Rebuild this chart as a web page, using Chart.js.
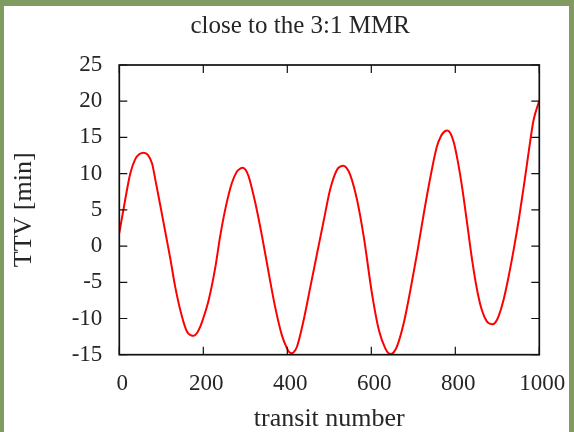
<!DOCTYPE html>
<html>
<head>
<meta charset="utf-8">
<script src="https://cdn.jsdelivr.net/npm/chart.js@4/dist/chart.umd.min.js"></script>
<style>
  html, body { margin: 0; padding: 0; }
  body { width: 574px; height: 432px; background: #7f9b60; position: relative; overflow: hidden; }
  #frame { position: absolute; left: 4px; top: 6px; width: 565px; height: 426px; background: #ffffff; }
  canvas { display: block; }
</style>
</head>
<body>
<div id="frame"><canvas id="ttv" width="565" height="426"></canvas></div>
<script>
// Transit timing variations of a planet near the 3:1 mean-motion resonance
const transitNumber = [
  0, 14, 26, 38, 48, 58, 68, 78, 86, 98, 110, 122, 133, 149, 161, 170, 177, 185, 193, 198,
  213, 229, 240, 252, 268, 280, 288, 294, 301, 308, 324, 340, 356, 371, 387, 399,
  404, 410, 416, 423, 439, 455, 471, 487, 502, 518, 527, 534, 541, 550, 566, 582, 602, 618,
  633, 641, 647, 653, 661, 677, 693, 709, 725, 741, 756, 766, 774, 781, 788, 796, 805, 816,
  828, 840, 852, 863, 875, 882, 889, 896, 903, 915, 927, 939, 951, 963, 975, 986, 1000
];
const ttvMinutes = [
  1.8, 6.4, 10.0, 12.0, 12.7, 12.9, 12.6, 11.4, 9.1, 5.5, 1.8, -1.9, -5.6, -9.7, -11.8, -12.3, -12.4, -12.0, -11.1, -10.3,
  -7.4, -2.8, 1.3, 5.0, 8.7, 10.3, 10.7, 10.8, 10.5, 9.6, 5.9, 1.3, -3.8, -8.4, -12.3, -14.1,
  -14.6, -14.8, -14.6, -13.9, -10.2, -5.6, -1.0, 3.6, 7.8, 10.5, 11.0, 11.1, 10.8, 9.8, 6.4, 1.3, -6.7, -11.6,
  -14.1, -14.8, -14.9, -14.7, -13.9, -10.7, -6.1, -1.0, 4.5, 9.6, 13.7, 15.2, 15.8, 15.95, 15.6, 14.4, 12.0, 8.2,
  3.2, -1.9, -6.1, -8.8, -10.4, -10.7, -10.8, -10.5, -9.7, -7.4, -4.2, -0.5, 3.6, 8.2, 13.1, 17.3, 20.1
];
const xTicks = [0, 200, 400, 600, 800, 1000];
const yTicks = [-15, -10, -5, 0, 5, 10, 15, 20, 25];

const titleText = 'close to the 3:1 MMR';
const xTitle = 'transit number';
const yTitle = 'TTV [min]';

const serif = '"Liberation Serif", "Times New Roman", serif';
const ink = '#262626';

// Boxed plot with inward tick marks on all four sides
const boxAndTicks = {
  id: 'boxAndTicks',
  afterLayout(chart) {
    // centre the title over the plot rather than the whole canvas
    const t = chart.titleBlock;
    if (t) { t.left += 28.5; t.right += 28.5; }
  },
  afterDatasetsDraw(chart) {
    const { ctx, chartArea: a, scales } = chart;
    const len = 8;
    ctx.save();
    ctx.strokeStyle = '#111111';
    ctx.lineWidth = 1.2;
    ctx.beginPath();
    scales.x.ticks.forEach(tk => {
      const px = scales.x.getPixelForValue(tk.value);
      ctx.moveTo(px, a.bottom); ctx.lineTo(px, a.bottom - len);
      ctx.moveTo(px, a.top); ctx.lineTo(px, a.top + len);
    });
    scales.y.ticks.forEach(tk => {
      const py = scales.y.getPixelForValue(tk.value);
      ctx.moveTo(a.left, py); ctx.lineTo(a.left + len, py);
      ctx.moveTo(a.right, py); ctx.lineTo(a.right - len, py);
    });
    ctx.stroke();
    ctx.lineWidth = 1.7;
    ctx.strokeRect(a.left, a.top, a.right - a.left, a.bottom - a.top);
    ctx.restore();
  }
};

new Chart(document.getElementById('ttv'), {
  type: 'line',
  data: {
    datasets: [{
      data: transitNumber.map((n, i) => ({ x: n, y: ttvMinutes[i] })),
      borderColor: '#ff0000',
      borderWidth: 2,
      pointRadius: 0,
      fill: false,
      cubicInterpolationMode: 'monotone'
    }]
  },
  options: {
    responsive: false,
    animation: false,
    events: [],
    layout: { padding: { left: 0, right: 29.7, top: 0, bottom: 0 } },
    plugins: {
      legend: { display: false },
      tooltip: { enabled: false },
      title: {
        display: true,
        text: titleText,
        color: ink,
        font: { family: serif, size: 25, weight: 'normal', lineHeight: 1.2 },
        padding: { top: 5, bottom: 24 }
      }
    },
    scales: {
      x: {
        type: 'linear',
        min: 0, max: 1000,
        afterBuildTicks: s => { s.ticks = xTicks.map(v => ({ value: v })); },
        afterFit: s => { s.height = 77.3; s.paddingLeft = 0; s.paddingRight = 0; },
        grid: { display: false, drawTicks: false },
        border: { display: false },
        ticks: {
          color: ink, padding: 15, maxRotation: 0, labelOffset: 3,
          font: { family: serif, size: 23 },
          callback: v => String(v)
        },
        title: {
          display: true, text: xTitle, color: ink,
          font: { family: serif, size: 26, lineHeight: 1 },
          padding: { top: 0, bottom: 0 }
        }
      },
      y: {
        type: 'linear',
        min: -15, max: 25,
        afterBuildTicks: s => { s.ticks = yTicks.map(v => ({ value: v })); },
        afterFit: s => { s.width = 115.3; s.paddingTop = 0; s.paddingBottom = 0; },
        grid: { display: false, drawTicks: false },
        border: { display: false },
        ticks: {
          color: ink, padding: 17,
          font: { family: serif, size: 23 },
          callback: v => String(v)
        },
        title: {
          display: true, text: yTitle, color: ink,
          font: { family: serif, size: 26, lineHeight: 1.2 },
          padding: { top: 5, bottom: 0 }
        }
      }
    }
  },
  plugins: [boxAndTicks]
});
</script>
</body>
</html>
